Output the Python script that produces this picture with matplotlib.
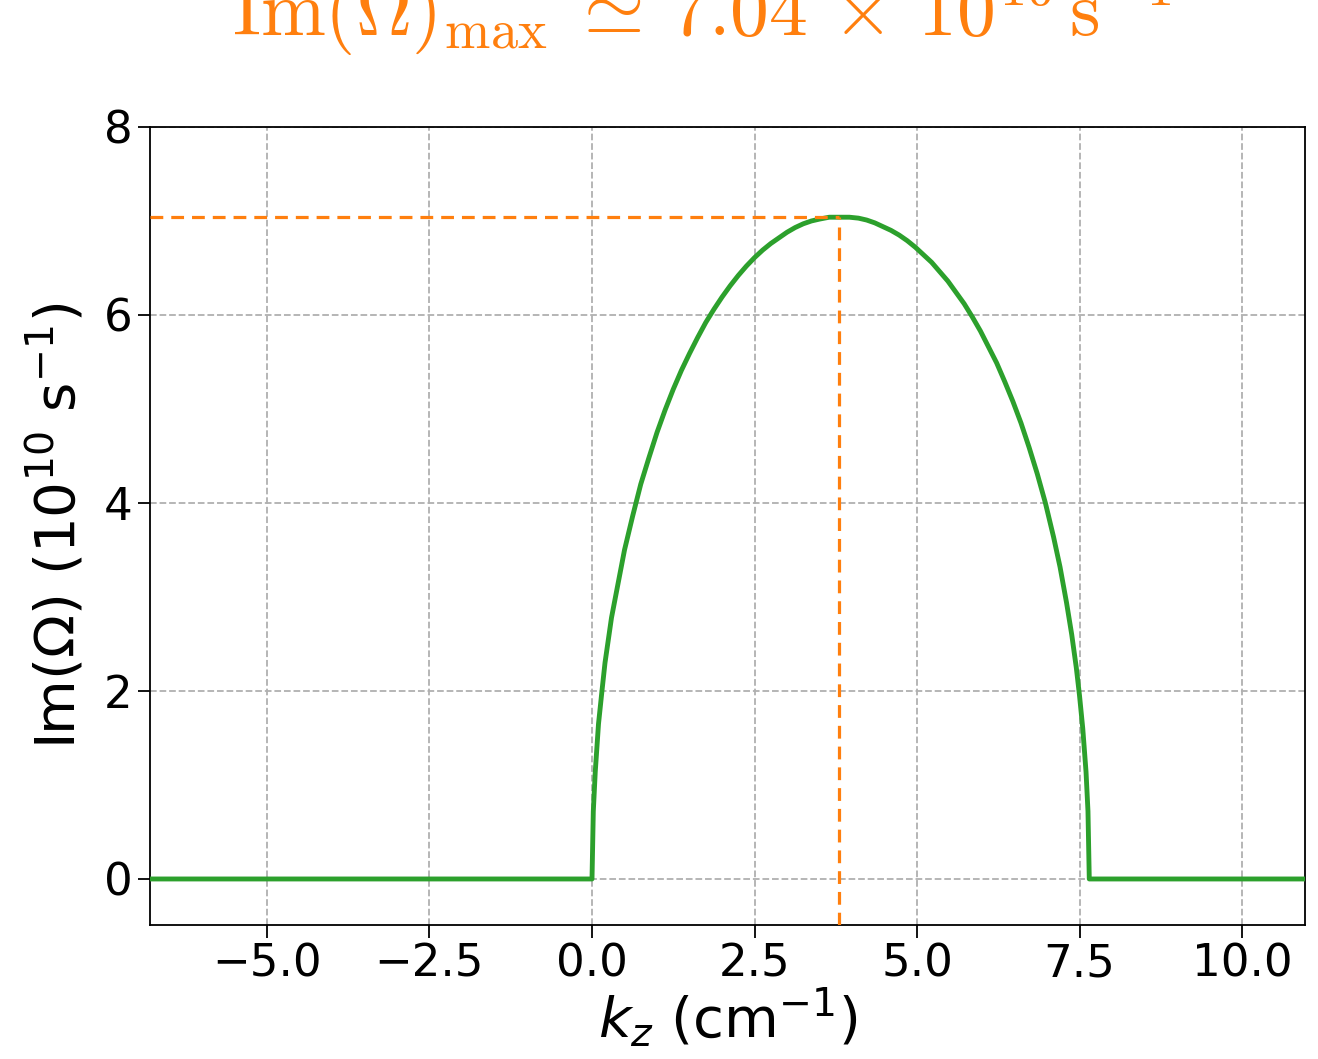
import matplotlib
matplotlib.use("Agg")
import matplotlib.pyplot as plt

# growth rate (k_z in cm^-1, Im(Omega) in 1e10 s^-1)
k_z = [-6.8, 0.0, 0.02, 0.05, 0.1, 0.15, 0.2, 0.3, 0.4, 0.5, 0.625, 0.75,
       0.875, 1.0, 1.125, 1.25, 1.375, 1.5, 1.625, 1.75, 1.875, 2.0, 2.125,
       2.25, 2.375, 2.5, 2.625, 2.75, 2.875, 3.0, 3.125, 3.25, 3.375, 3.5,
       3.65, 3.82, 3.96, 4.1, 4.225, 4.35, 4.475, 4.6, 4.725, 4.85, 4.975,
       5.1, 5.225, 5.35, 5.475, 5.6, 5.725, 5.85, 5.975, 6.1, 6.225, 6.35,
       6.475, 6.6, 6.725, 6.85, 6.975, 7.1, 7.2, 7.3, 7.38, 7.45, 7.5, 7.55,
       7.6, 7.63, 7.65, 11.0]
im_omega = [0.0, 0.0, 0.72, 1.14, 1.65, 1.98, 2.3, 2.78, 3.14, 3.5, 3.86,
            4.2, 4.48, 4.75, 4.99, 5.21, 5.41, 5.59, 5.76, 5.92, 6.06, 6.19,
            6.31, 6.42, 6.52, 6.61, 6.69, 6.76, 6.82, 6.88, 6.93, 6.97, 7.0,
            7.02, 7.04, 7.04, 7.04, 7.03, 7.01, 6.98, 6.94, 6.90, 6.85, 6.79,
            6.72, 6.64, 6.56, 6.46, 6.36, 6.24, 6.12, 5.98, 5.83, 5.66, 5.49,
            5.29, 5.08, 4.85, 4.59, 4.31, 4.0, 3.64, 3.32, 2.94, 2.6, 2.25,
            1.95, 1.60, 1.14, 0.72, 0.0, 0.0]

k_peak = 3.80
im_peak = 7.04

x_ticks = [-5.0, -2.5, 0.0, 2.5, 5.0, 7.5, 10.0]
y_ticks = [0, 2, 4, 6, 8]

fig = plt.figure(figsize=(13.18, 10.59), dpi=100)
ax = fig.add_axes([0.1138, 0.1265, 0.8764, 0.7536])

ax.plot(k_z, im_omega, color="#2ca02c", lw=3.5, zorder=3)

ymin = -0.49
xmin = k_z[0]
ax.plot([xmin, k_peak], [im_peak, im_peak], color="#ff7f0e", lw=2.3, ls=(0, (4, 2.5)), zorder=4)
ax.plot([k_peak, k_peak], [ymin, im_peak], color="#ff7f0e", lw=2.3, ls=(0, (4, 2.5)), zorder=4)

ax.set_xlim(-6.8, 10.97)
ax.set_ylim(ymin, 8)
ax.set_xticks(x_ticks)
ax.set_yticks(y_ticks)
ax.grid(True, ls="--", color="#b0b0b0", lw=1.3)
ax.tick_params(labelsize=32.5, length=9, width=1.3)
for s in ax.spines.values():
    s.set_linewidth(1.3)

ax.set_xlabel(r"$k_z$ (cm$^{-1}$)", fontsize=40.5, labelpad=0)
ax.set_ylabel(r"Im($\Omega$) (10$^{10}$ s$^{-1}$)", fontsize=40.5, labelpad=12)

fig.text(0.532, 1 - 36 / 1059,
         r"$\mathrm{Im}(\Omega)_{\max}\;\simeq\,7.04\,\times\,10^{10}\,\mathrm{s}^{-1}$",
         color="#ff7f0e", fontsize=56, ha="center", va="baseline", math_fontfamily="cm")

fig.savefig("out.png", dpi=100)
